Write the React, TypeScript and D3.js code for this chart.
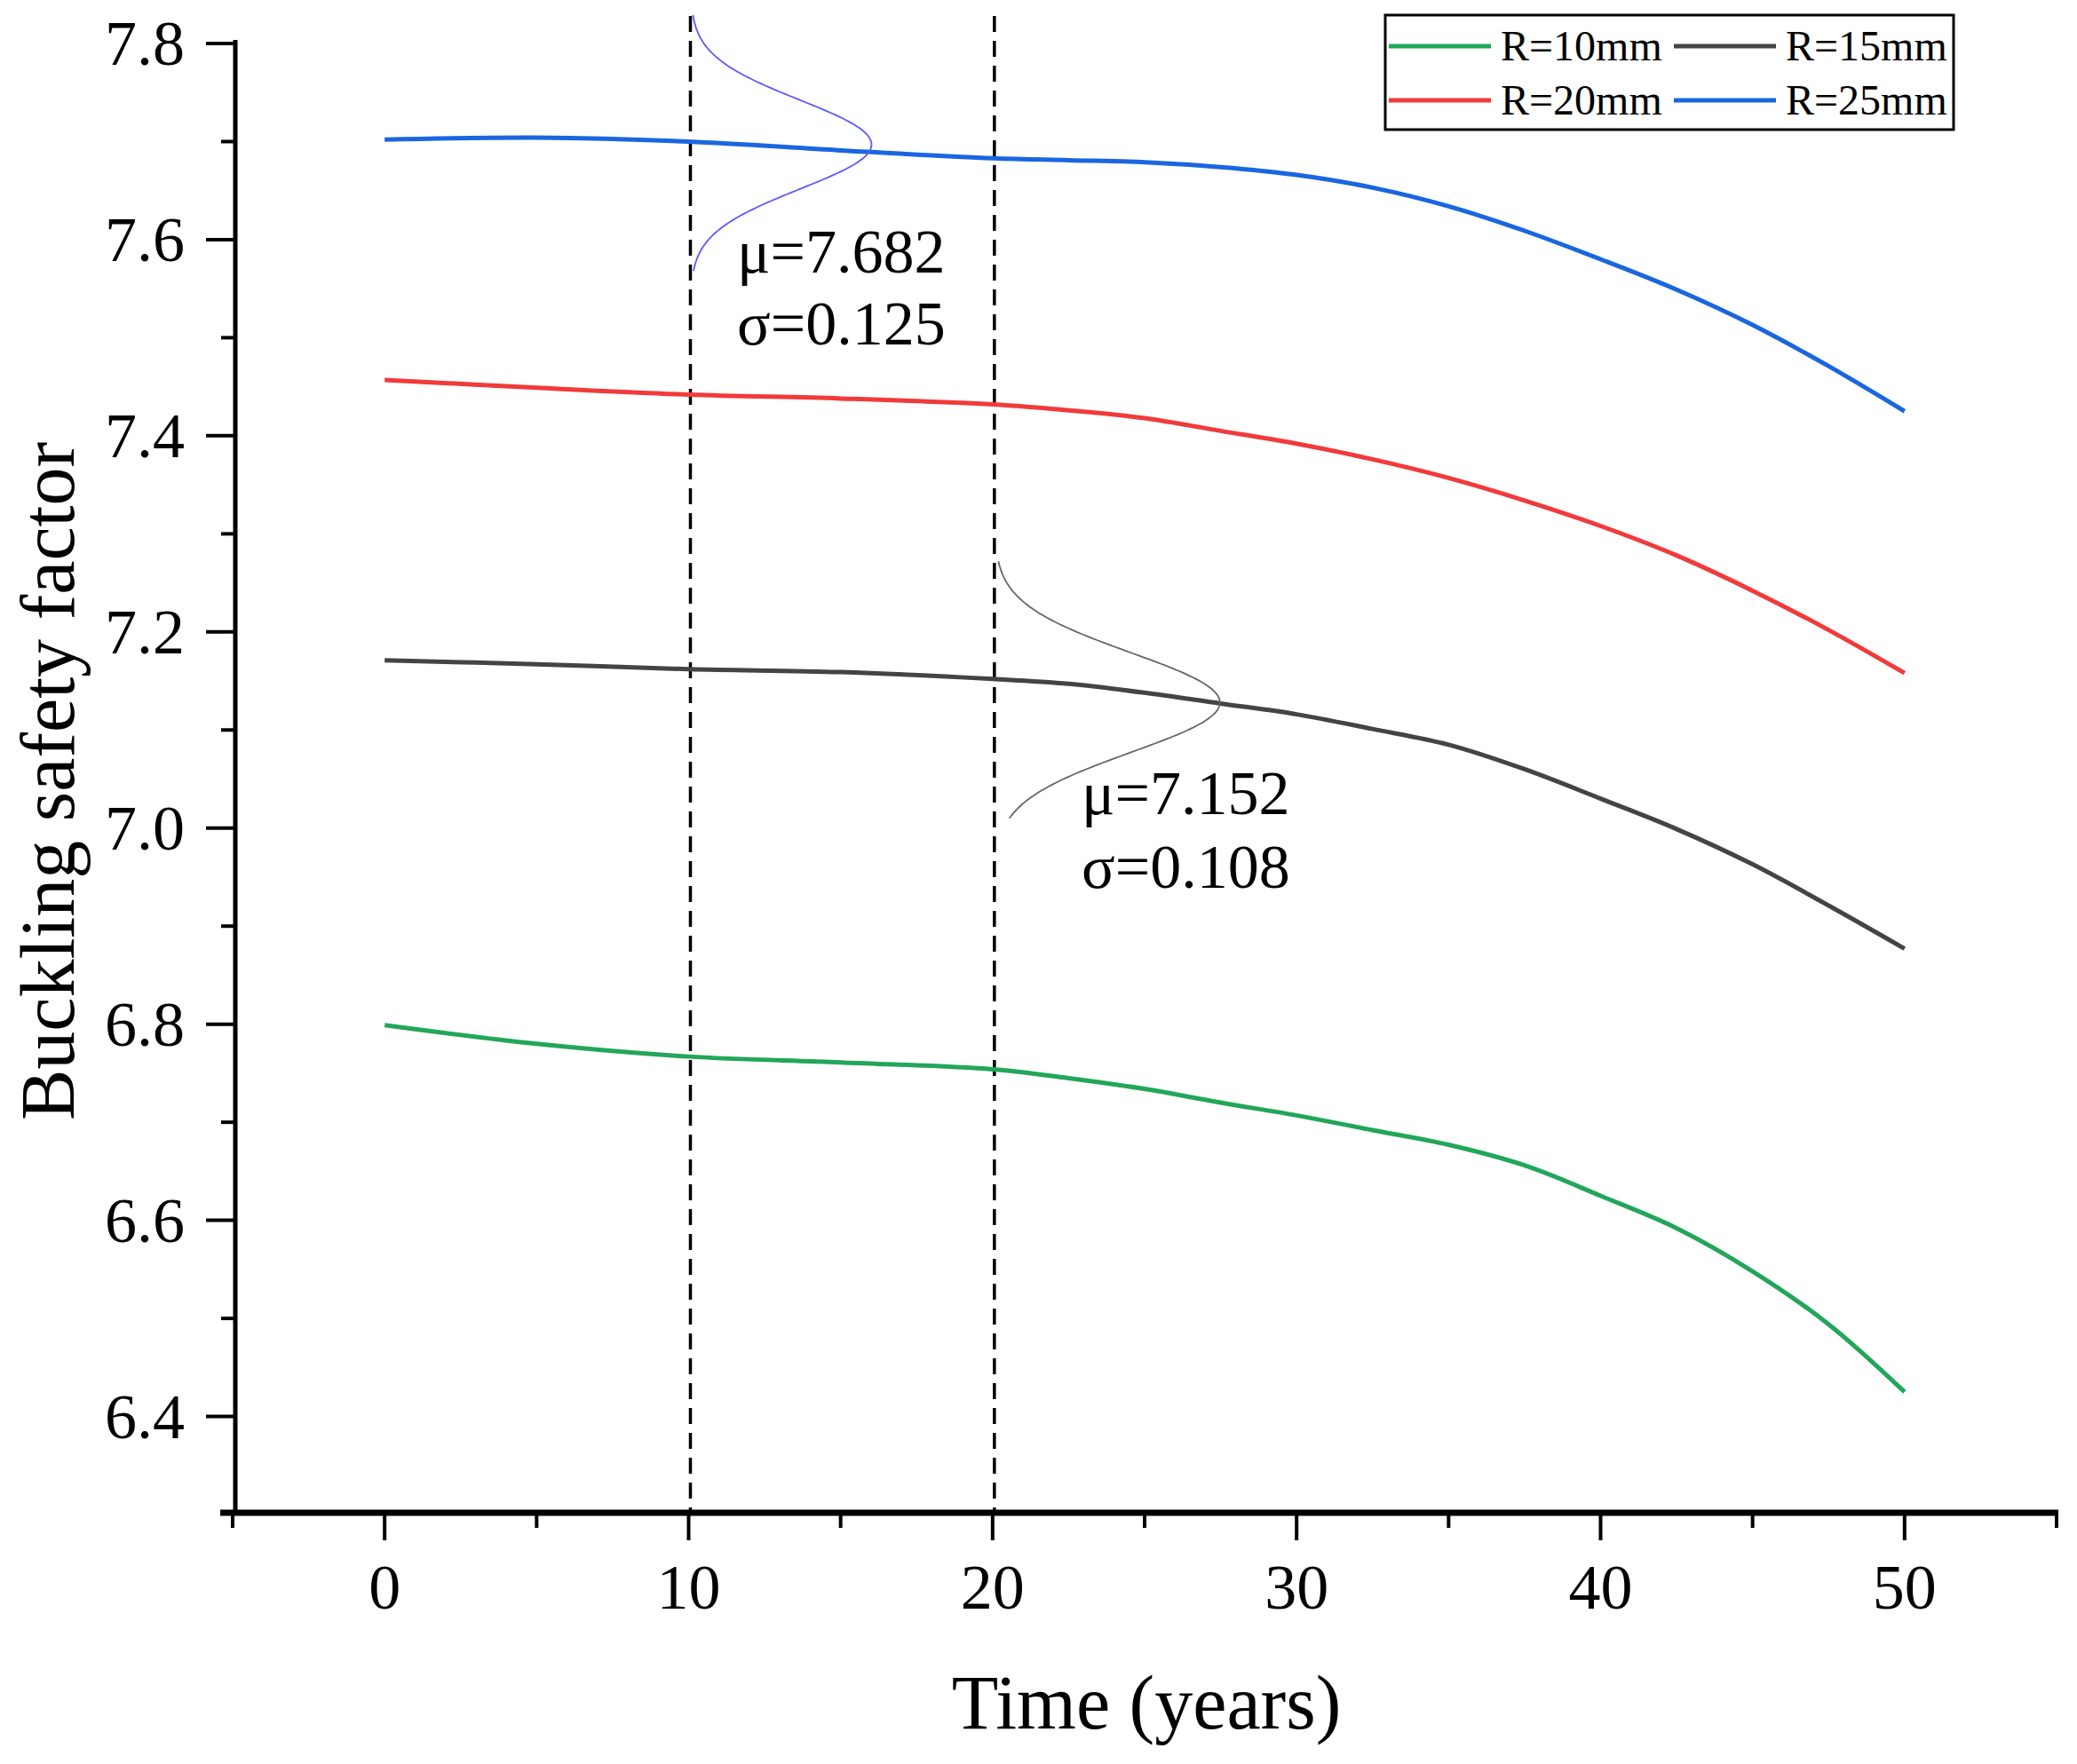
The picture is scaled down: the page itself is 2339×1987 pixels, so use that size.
import { useEffect, useRef } from 'react'
import * as d3 from 'd3'

// time (years)
const years = [0, 5, 10, 15, 20, 22.5, 25, 27.5, 30, 32.5, 35, 37.5, 40, 42.5, 45, 47.5, 50]
const r10 = [6.799, 6.780, 6.767, 6.761, 6.754, 6.745, 6.734, 6.720, 6.707, 6.692, 6.677, 6.656, 6.625, 6.592, 6.548, 6.494, 6.425]
const r15 = [7.171, 7.167, 7.162, 7.159, 7.152, 7.147, 7.138, 7.127, 7.116, 7.101, 7.085, 7.060, 7.030, 6.999, 6.963, 6.921, 6.877]
const r20 = [7.457, 7.449, 7.442, 7.438, 7.432, 7.426, 7.418, 7.405, 7.392, 7.376, 7.357, 7.334, 7.308, 7.278, 7.242, 7.202, 7.158]
const r25 = [7.702, 7.704, 7.700, 7.691, 7.683, 7.681, 7.679, 7.674, 7.666, 7.653, 7.634, 7.609, 7.580, 7.549, 7.513, 7.471, 7.425]

const seriesNames = ['R=10mm', 'R=15mm', 'R=20mm', 'R=25mm']
const seriesColors = ['#22a65a', '#444444', '#f23a3a', '#1a66e0']
const seriesValues = [r10, r15, r20, r25]

const xTicks = [0, 10, 20, 30, 40, 50]
const yTicks = [6.4, 6.6, 6.8, 7.0, 7.2, 7.4, 7.6, 7.8]
const markerYears = [10, 20]

// normal-distribution sketches drawn on the marker lines
const distBase = [10, 20]
const distCenter = [7.697, 7.128]
const distSd = [0.0452, 0.0507]
const distPeak = [5.96, 7.42]
const distLo = [7.568, 7.010]
const distHi = [7.829, 7.272]
const distColors = ['#5a5aff', '#666666']
const distLabels = [['μ=7.682', 'σ=0.125'], ['μ=7.152', 'σ=0.108']]

export default function App() {
  const ref = useRef<SVGSVGElement | null>(null)

  useEffect(() => {
    if (!ref.current) return
    const width = 2339, height = 1987
    const svg = d3.select(ref.current)
      .attr('width', width).attr('height', height)
      .attr('viewBox', `0 0 ${width} ${height}`)
    svg.selectAll('*').remove()
    const font = '"Liberation Serif", "Times New Roman", serif'

    const x = d3.scaleLinear().domain([-5, 55]).range([262, 2316])
    const y = d3.scaleLinear().domain([6.3, 7.8]).range([1706, 49])
    const axisY = 1704, axisX = 265

    // dashed marker lines
    svg.append('g').selectAll('line').data(markerYears).enter().append('line')
      .attr('x1', d => x(d) + 2).attr('x2', d => x(d) + 2)
      .attr('y1', y(7.828)).attr('y2', axisY)
      .attr('stroke', '#000').attr('stroke-width', 3.5)
      .attr('stroke-dasharray', '18 10')

    // series
    const line = d3.line<number>()
      .x((_, i) => x(years[i]))
      .y(d => y(d))
      .curve(d3.curveCatmullRom.alpha(0.5))
    svg.append('g').selectAll('path').data(seriesValues).enter().append('path')
      .attr('d', d => line(d))
      .attr('fill', 'none')
      .attr('stroke', (_, i) => seriesColors[i])
      .attr('stroke-width', 5)

    // distribution curves
    distBase.forEach((b, k) => {
      const vs = d3.range(distLo[k], distHi[k] + 1e-9, (distHi[k] - distLo[k]) / 120)
      const pts = vs.map(v => [b + distPeak[k] * Math.exp(-0.5 * ((v - distCenter[k]) / distSd[k]) ** 2), v])
      svg.append('path')
        .attr('d', d3.line<number[]>().x(p => x(p[0]) + 2).y(p => y(p[1])).curve(d3.curveBasis)(pts))
        .attr('fill', 'none').attr('stroke', distColors[k]).attr('stroke-width', 1.8)
    })

    // annotation texts
    const annPos = [[830, 307, 388], [1218, 917, 1000]]
    distLabels.forEach((lbl, k) => {
      lbl.forEach((t, j) => {
        svg.append('text').attr('x', annPos[k][0]).attr('y', annPos[k][1 + j])
          .attr('font-family', font).attr('font-size', 70).attr('fill', '#000').text(t)
      })
    })

    // axes
    const g = svg.append('g')
    const xMinor = d3.range(-5, 56, 10)
    g.selectAll('.xmaj').data(xTicks).enter().append('line')
      .attr('x1', d => x(d)).attr('x2', d => x(d)).attr('y1', axisY).attr('y2', axisY + 31)
      .attr('stroke', '#000').attr('stroke-width', 4)
    g.selectAll('.xmin').data(xMinor).enter().append('line')
      .attr('x1', d => x(d)).attr('x2', d => x(d)).attr('y1', axisY).attr('y2', axisY + 17)
      .attr('stroke', '#000').attr('stroke-width', 4)
    g.selectAll('.xlab').data(xTicks).enter().append('text')
      .attr('x', d => x(d)).attr('y', 1812).attr('text-anchor', 'middle')
      .attr('font-family', font).attr('font-size', 72).text(d => String(d))

    const yMinor = d3.range(6.5, 7.75, 0.2)
    g.selectAll('.ymaj').data(yTicks).enter().append('line')
      .attr('x1', axisX - 33).attr('x2', axisX).attr('y1', d => y(d)).attr('y2', d => y(d))
      .attr('stroke', '#000').attr('stroke-width', 4)
    g.selectAll('.ymin').data(yMinor).enter().append('line')
      .attr('x1', axisX - 16).attr('x2', axisX).attr('y1', d => y(d)).attr('y2', d => y(d))
      .attr('stroke', '#000').attr('stroke-width', 4)
    g.selectAll('.ylab').data(yTicks).enter().append('text')
      .attr('x', 208).attr('y', d => y(d) + 24).attr('text-anchor', 'end')
      .attr('font-family', font).attr('font-size', 72).text(d => d.toFixed(1))

    g.append('line').attr('x1', axisX).attr('x2', axisX).attr('y1', 45).attr('y2', axisY)
      .attr('stroke', '#000').attr('stroke-width', 5)
    g.append('line').attr('x1', 248).attr('x2', 2318).attr('y1', axisY).attr('y2', axisY)
      .attr('stroke', '#000').attr('stroke-width', 7)

    // axis titles
    svg.append('text').attr('x', 1291).attr('y', 1947).attr('text-anchor', 'middle')
      .attr('font-family', font).attr('font-size', 86).text('Time (years)')
    svg.append('text').attr('transform', `translate(83,880) rotate(-90)`).attr('text-anchor', 'middle')
      .attr('font-family', font).attr('font-size', 86).text('Buckling safety factor')

    // legend
    const lg = svg.append('g')
    lg.append('rect').attr('x', 1560).attr('y', 17).attr('width', 640).attr('height', 129)
      .attr('fill', '#fff').attr('stroke', '#000').attr('stroke-width', 3)
    const colX = [1564, 1885]
    const rowY = [52, 113]
    seriesNames.forEach((name, i) => {
      const cx = colX[i % 2], cy = rowY[Math.floor(i / 2)]
      lg.append('line').attr('x1', cx).attr('x2', cx + 115).attr('y1', cy).attr('y2', cy)
        .attr('stroke', seriesColors[i]).attr('stroke-width', 5)
      lg.append('text').attr('x', cx + 126).attr('y', cy + 16)
        .attr('font-family', font).attr('font-size', 48).text(name)
    })
  }, [])

  return (
    <div>
      <style>{'body{margin:0;background:#fff}'}</style>
      <svg ref={ref} style={{ display: 'block' }} />
    </div>
  )
}
